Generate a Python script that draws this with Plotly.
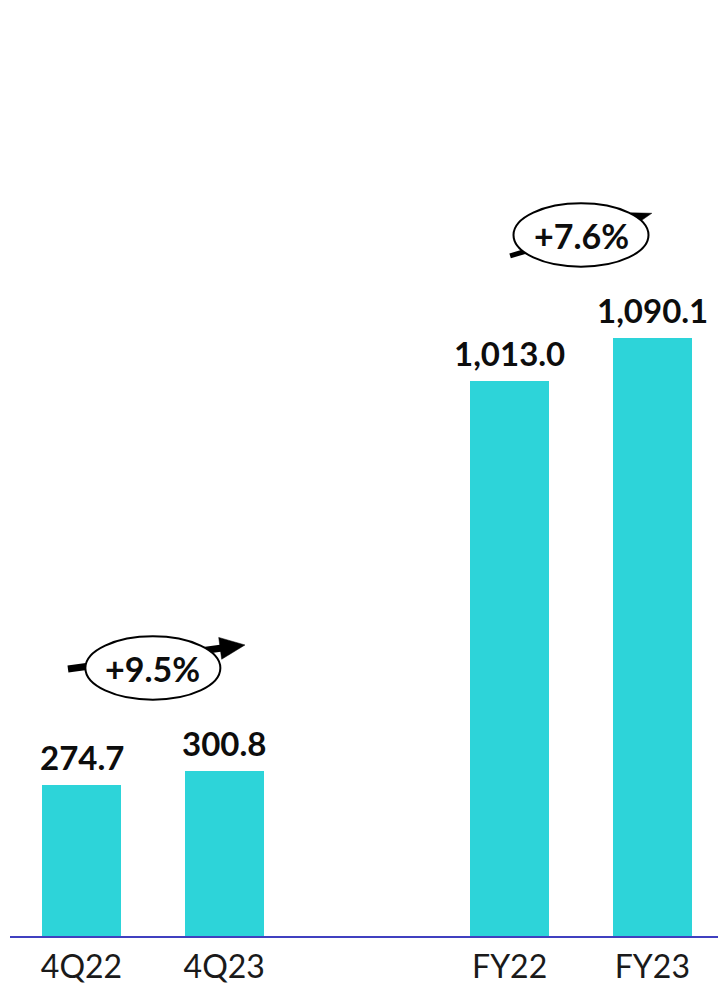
import numpy as np
import plotly.graph_objects as go

# Revenue by period
periods = ["4Q22", "4Q23", "FY22", "FY23"]
positions = [0, 1, 3, 4]
values = [274.7, 300.8, 1013.0, 1090.1]

# Growth call-outs: (left bar index, right bar index, label)
growth_labels = ["+9.5%", "+7.6%"]
growth_pairs = [(0, 1), (2, 3)]

BAR_COLOR = "#2DD4D9"
AXIS_COLOR = "#4040C0"
FONT = "Lato, 'Open Sans', sans-serif"

fig = go.Figure()
fig.add_trace(go.Bar(
    x=positions, y=values, width=0.554,
    marker=dict(color=BAR_COLOR, line=dict(width=0)),
    hoverinfo="skip", showlegend=False,
))

annotations = []
for p, v in zip(positions, values):
    annotations.append(dict(
        x=p, y=v, xref="x", yref="y", text=f"{v:,.1f}", showarrow=False,
        yanchor="bottom", yshift=6,
        font=dict(family=FONT, size=33, color="#0d0d0d", weight="bold"),
    ))


def arrow_shapes(xa, ya, start, tip, lw, head_len, head_half):
    """Thick line with a filled triangular head, in pixel offsets from (xa, ya)."""
    s = np.array(start, float)
    t = np.array(tip, float)
    u = (t - s) / np.linalg.norm(t - s)
    n = np.array([-u[1], u[0]])
    b = t - head_len * u
    c1, c2 = b + head_half * n, b - head_half * n
    common = dict(xref="x", yref="y", xsizemode="pixel", ysizemode="pixel",
                  xanchor=xa, yanchor=ya, layer="above")
    line = dict(type="line", x0=s[0], y0=s[1], x1=b[0] + u[0] * 2, y1=b[1] + u[1] * 2,
                line=dict(color="black", width=lw), **common)
    head = dict(type="path",
                path=f"M{t[0]:.2f},{t[1]:.2f} L{c1[0]:.2f},{c1[1]:.2f} L{c2[0]:.2f},{c2[1]:.2f} Z",
                fillcolor="black", line=dict(color="black", width=0.5), **common)
    return [line, head]


# call-out geometry: vertical anchor (data), arrow start/tip offsets, widths
callout_y = [488.8, 1278.5]
arrow_start = [(-84.9, -1.0), (-70.9, -21.0)]
arrow_tip = [(92.1, 23.0), (70.8, 21.7)]
arrow_width = [7, 5]
head_len = [25, 20]
head_half = [11, 6.5]

shapes = []
for k, ((i, j), lab) in enumerate(zip(growth_pairs, growth_labels)):
    xc = (positions[i] + positions[j]) / 2
    yc = callout_y[k]
    shapes += arrow_shapes(xc, yc, arrow_start[k], arrow_tip[k],
                           arrow_width[k], head_len[k], head_half[k])
    shapes.append(dict(
        type="circle", xref="x", yref="y", xsizemode="pixel", ysizemode="pixel",
        xanchor=xc, yanchor=yc, x0=-67.5, x1=67.5, y0=-31.7, y1=31.7,
        fillcolor="white", line=dict(color="black", width=2), layer="above",
    ))
    annotations.append(dict(
        x=xc, y=yc, xref="x", yref="y", text=lab, showarrow=False,
        yshift=-1, font=dict(family=FONT, size=34, color="#0d0d0d", weight="bold"),
    ))

fig.update_layout(
    width=718, height=987,
    margin=dict(l=10, r=0, t=0, b=51),
    paper_bgcolor="white", plot_bgcolor="white",
    bargap=0,
    xaxis=dict(
        range=[-0.501, 4.46], tickvals=positions, ticktext=periods,
        showgrid=False, zeroline=False, showline=True,
        linecolor=AXIS_COLOR, linewidth=1.5, ticks="",
        ticklabelstandoff=2, automargin=False,
        tickfont=dict(family=FONT, size=32, color="#1a1a1a"),
        fixedrange=True,
    ),
    yaxis=dict(range=[0, 1707], visible=False, fixedrange=True),
    shapes=shapes,
    annotations=annotations,
)

fig.write_html("out.html")
